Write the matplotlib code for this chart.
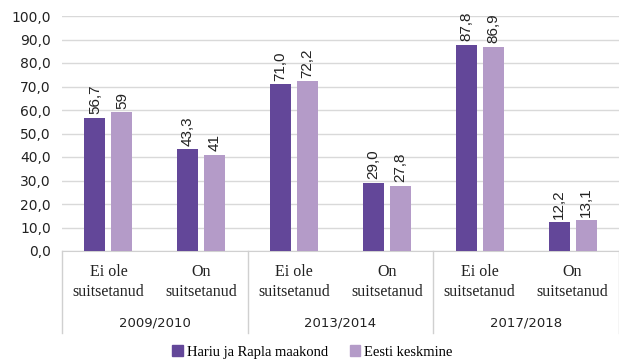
import matplotlib.pyplot as plt
import matplotlib.transforms as mtransforms
from matplotlib.lines import Line2D
import numpy as np

# andmed
years = ["2009/2010", "2013/2014", "2017/2018"]
categories = ["Ei ole\nsuitsetanud", "On\nsuitsetanud"] * 3
harju_rapla = [56.7, 43.3, 71.0, 29.0, 87.8, 12.2]
eesti = [59, 41, 72.2, 27.8, 86.9, 13.1]
harju_labels = ["56,7", "43,3", "71,0", "29,0", "87,8", "12,2"]
eesti_labels = ["59", "41", "72,2", "27,8", "86,9", "13,1"]
series_names = ["Hariu ja Rapla maakond", "Eesti keskmine"]

dark = "#634799"
light = "#b49bc8"

fig = plt.figure(figsize=(6.19, 3.61), dpi=100)
ax = fig.add_axes([62 / 619, 1 - 251 / 361, 557 / 619, 235 / 361])

x = np.arange(len(categories))
w = 0.226
off = 0.145
b1 = ax.bar(x - off, harju_rapla, w, color=dark, zorder=3)
b2 = ax.bar(x + off, eesti, w, color=light, zorder=3)

for bars, labs in ((b1, harju_labels), (b2, eesti_labels)):
    for rect, lab in zip(bars, labs):
        ax.text(rect.get_x() + rect.get_width() / 2, rect.get_height() + 1.5, lab,
                rotation=90, ha="center", va="bottom", fontsize=11,
                family="Liberation Sans", color="#222222")

ax.set_xlim(-0.5, len(categories) - 0.5)
ax.set_ylim(0, 100)
ax.set_yticks(np.arange(0, 101, 10))
ax.set_yticklabels([f"{v:.1f}".replace(".", ",") for v in range(0, 101, 10)],
                   fontsize=10, family="DejaVu Sans", color="#222222")
ax.yaxis.grid(True, color="#d9d9d9", linewidth=1, zorder=0)
ax.tick_params(axis="y", length=0, pad=8)
ax.tick_params(axis="x", length=0)
ax.set_xticks([])
for s in ("top", "right", "left"):
    ax.spines[s].set_visible(False)
ax.spines["bottom"].set_color("#d0d0d0")

# mitmetasandilised x-telje sildid
trans = mtransforms.blended_transform_factory(ax.transData, fig.transFigure)
for i, c in enumerate(categories):
    ax.text(i, 1 - 282 / 361, c, transform=trans, ha="center", va="center",
            fontsize=11.5, family="Liberation Serif", color="#222222", linespacing=1.3)
for j, yr in enumerate(years):
    ax.text(2 * j + 0.5, 1 - 323 / 361, yr, transform=trans, ha="center", va="center",
            fontsize=9.5, family="DejaVu Sans", color="#222222")
for k in range(4):
    xb = 2 * k - 0.5
    fig.add_artist(Line2D([xb, xb], [1 - 251 / 361, 1 - 333 / 361], transform=trans,
                          color="#d0d0d0", linewidth=1))

handles = [plt.Rectangle((0, 0), 1, 1, color=dark), plt.Rectangle((0, 0), 1, 1, color=light)]
fig.legend(handles, series_names, loc="center", bbox_to_anchor=(0.505, 1 - 352 / 361),
           ncol=2, frameon=False, prop={"family": "Liberation Serif", "size": 10.5},
           handlelength=0.7, handleheight=0.7, handletextpad=0.3, columnspacing=1.5,
           borderpad=0.2)

fig.savefig("out.png", dpi=100)
